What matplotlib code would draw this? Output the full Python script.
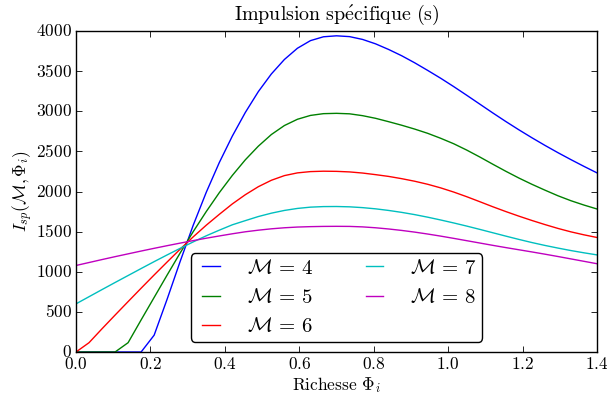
import matplotlib
matplotlib.use("Agg")
import matplotlib.pyplot as plt

plt.style.use("classic")
plt.rcParams.update({
    "figure.facecolor": "white",
    "savefig.facecolor": "white",
    "font.family": "serif",
    "font.serif": ["cmr10"],
    "mathtext.fontset": "cm",
    "axes.formatter.use_mathtext": True,
    "font.size": 12.5,
})

# Richesse (equivalence ratio) sampling
phi = [0.000, 0.035, 0.070, 0.105, 0.140, 0.175, 0.210, 0.245, 0.280, 0.315,
       0.350, 0.385, 0.420, 0.455, 0.490, 0.525, 0.560, 0.595, 0.630, 0.665,
       0.700, 0.735, 0.770, 0.805, 0.840, 0.875, 0.910, 0.945, 0.980, 1.015,
       1.050, 1.085, 1.120, 1.155, 1.190, 1.225, 1.260, 1.295, 1.330, 1.365,
       1.400]

# Specific impulse (s) for each flight Mach number
isp_m4 = [0, 0, 0, 0, 0, 0, 210, 660, 1130, 1580,
          1990, 2360, 2690, 2985, 3245, 3465, 3645, 3785, 3880, 3928,
          3940, 3930, 3895, 3840, 3770, 3692, 3604, 3509, 3411, 3307,
          3199, 3089, 2979, 2872, 2769, 2670, 2575, 2484, 2397, 2313,
          2232]
isp_m5 = [0, 0, 0, 0, 116, 400, 680, 960, 1235, 1500,
          1750, 1985, 2200, 2395, 2565, 2710, 2822, 2900, 2948, 2970,
          2974, 2968, 2945, 2912, 2870, 2826, 2778, 2725, 2663, 2595,
          2516, 2430, 2340, 2252, 2168, 2090, 2017, 1947, 1885, 1831,
          1782]
isp_m6 = [0, 116, 290, 460, 628, 795, 960, 1122, 1282, 1435,
          1580, 1715, 1845, 1960, 2060, 2140, 2198, 2232, 2248, 2253,
          2251, 2244, 2230, 2210, 2188, 2160, 2128, 2090, 2045, 1993,
          1935, 1873, 1810, 1750, 1693, 1639, 1588, 1540, 1497, 1460,
          1427]
isp_m7 = [600, 689, 778, 866, 953, 1040, 1126, 1210, 1292, 1372,
          1448, 1518, 1585, 1637, 1688, 1730, 1764, 1789, 1805, 1812,
          1813, 1809, 1799, 1784, 1764, 1740, 1712, 1680, 1645, 1608,
          1569, 1528, 1486, 1444, 1403, 1364, 1328, 1295, 1264, 1236,
          1210]
isp_m8 = [1078, 1115, 1152, 1188, 1223, 1258, 1292, 1325, 1357, 1388,
          1418, 1446, 1473, 1498, 1518, 1535, 1548, 1557, 1562, 1565,
          1566, 1565, 1559, 1548, 1533, 1515, 1494, 1470, 1444, 1416,
          1387, 1358, 1329, 1301, 1274, 1247, 1219, 1190, 1160, 1130,
          1100]

mach_labels = [r"$\mathcal{M}\,=\,4$", r"$\mathcal{M}\,=\,5$", r"$\mathcal{M}\,=\,6$",
               r"$\mathcal{M}\,=\,7$", r"$\mathcal{M}\,=\,8$"]
colors = ["b", "g", "r", "c", "m"]

xticks = [0.0, 0.2, 0.4, 0.6, 0.8, 1.0, 1.2, 1.4]
yticks = [0, 500, 1000, 1500, 2000, 2500, 3000, 3500, 4000]

fig = plt.figure(figsize=(6.07, 3.98), dpi=100)
ax = fig.add_axes([76 / 607, 1 - 352 / 398, 521 / 607, 321 / 398])

for series, lab, col in zip([isp_m4, isp_m5, isp_m6, isp_m7, isp_m8], mach_labels, colors):
    ax.plot(phi, series, color=col, lw=1.0, label=lab)

ax.set_xlim(0, 1.4)
ax.set_ylim(0, 4000)
ax.set_xticks(xticks)
ax.set_yticks(yticks)
ax.tick_params(direction="in", length=4, width=0.6, pad=3, top=True, right=True,
               labelsize=12.5)

ax.set_title(r"$\mathrm{Impulsion\ sp\acute{e}cifique\ (s)}$", fontsize=14.4, pad=8)
ax.set_xlabel(r"Richesse $\Phi_i$", fontsize=12.5, labelpad=2)
ax.set_ylabel(r"$I_{sp}(\mathcal{M},\Phi_i)$", fontsize=12.5, labelpad=1)

leg = ax.legend(loc="lower center", ncol=2, fontsize=15, handlelength=1.45,
                handletextpad=1.0, columnspacing=2.2, fancybox=True,
                borderpad=0.25, labelspacing=0.5, numpoints=2)
leg.get_frame().set_edgecolor("k")
leg.get_frame().set_linewidth(1.0)

fig.savefig("out.png", dpi=100)
